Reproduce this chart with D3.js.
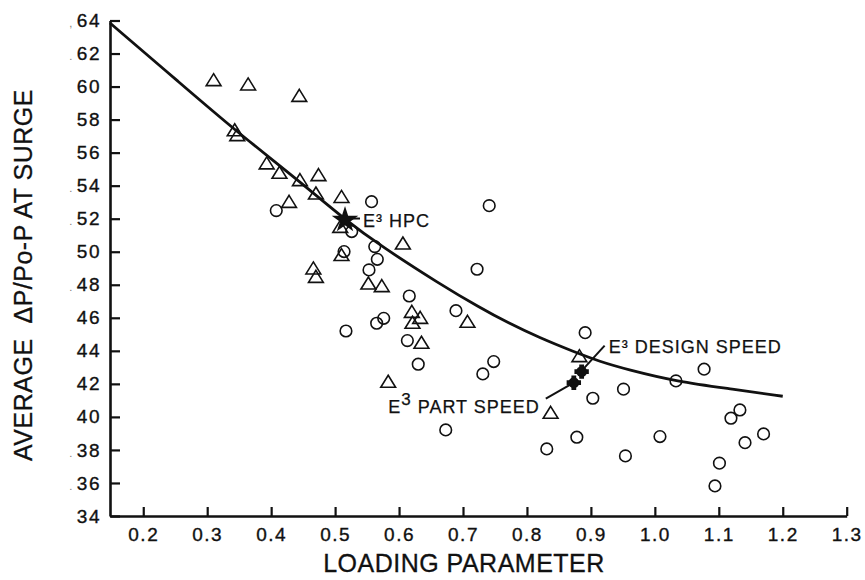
<!DOCTYPE html>
<html>
<head>
<meta charset="utf-8">
<script src="https://cdn.jsdelivr.net/npm/d3@7"></script>
<style>
  body { margin: 0; background: #fff; }
  svg text { font-family: "Liberation Sans", Arial, Helvetica, sans-serif; fill: #111; }
  .tick text { font-size: 19px; letter-spacing: 1.5px; stroke: #111; stroke-width: 0.35px; }
  .axis-title { font-size: 25px; letter-spacing: 0.5px; white-space: pre; stroke: #111; stroke-width: 0.3px; }
  .note { font-size: 18px; letter-spacing: 1px; stroke: #111; stroke-width: 0.25px; }
</style>
</head>
<body>
<div id="surge_chart"></div>
<script>
// open triangles: [loading parameter, average dP/Po-P at surge]
const triangles = [
  [0.310, 60.40], [0.364, 60.14], [0.444, 59.45], [0.343, 57.37], [0.347, 57.07],
  [0.393, 55.36], [0.413, 54.79], [0.445, 54.35], [0.474, 54.65], [0.470, 53.54],
  [0.510, 53.33], [0.428, 53.03], [0.508, 51.52], [0.606, 50.51], [0.510, 49.81],
  [0.466, 49.00], [0.470, 48.49], [0.552, 48.09], [0.573, 47.93], [0.620, 46.37],
  [0.633, 46.01], [0.621, 45.71], [0.707, 45.77], [0.635, 44.50], [0.583, 42.14],
  [0.882, 43.69], [0.837, 40.26]
];

// open circles
const circles = [
  [0.408, 52.49], [0.557, 53.03], [0.741, 52.79], [0.526, 51.22], [0.562, 50.31],
  [0.514, 50.01], [0.566, 49.54], [0.553, 48.90], [0.722, 48.94], [0.616, 47.32],
  [0.689, 46.43], [0.576, 45.97], [0.565, 45.67], [0.517, 45.20], [0.613, 44.62],
  [0.630, 43.19], [0.748, 43.35], [0.731, 42.60], [0.673, 39.21], [0.831, 38.06],
  [0.878, 38.77], [0.891, 45.10], [0.903, 41.13], [0.951, 41.68], [1.033, 42.18],
  [1.077, 42.89], [1.008, 38.81], [0.954, 37.64], [1.133, 40.42], [1.119, 39.92],
  [1.170, 38.97], [1.141, 38.44], [1.101, 37.20], [1.094, 35.82]
];

// faired curve
const curve = [
  [0.148, 63.85], [0.257, 60.23], [0.343, 57.37], [0.442, 54.34], [0.516, 51.92],
  [0.573, 50.31], [0.664, 48.04], [0.727, 46.60], [0.768, 45.74], [0.820, 44.78],
  [0.873, 43.95], [0.914, 43.35], [0.956, 42.88], [1.034, 42.14], [1.123, 41.68],
  [1.200, 41.25]
];

// E3 points
const e3Hpc = [0.5155, 51.92];
const e3Design = [0.8855, 42.74];
const e3Part = [0.8733, 42.07];

const xTicks = [0.2, 0.3, 0.4, 0.5, 0.6, 0.7, 0.8, 0.9, 1.0, 1.1, 1.2, 1.3];
const yTicks = [34, 36, 38, 40, 42, 44, 46, 48, 50, 52, 54, 56, 58, 60, 62, 64];
const yTickLabels = ["34", ".36", ".38", "40", "42", "44", "46", ".48", "50", ".52", ".54", "56", "58", "60", ".62", ",64"];

const margin = {top: 20.5, right: 18.3, bottom: 64, left: 110},
    width = 865 - margin.left - margin.right,
    height = 580 - margin.top - margin.bottom;

const svg = d3.select("#surge_chart")
  .append("svg")
    .attr("width", 865)
    .attr("height", 580)
  .append("g")
    .attr("transform", `translate(${margin.left},${margin.top})`);

const x = d3.scaleLinear().domain([0.148, 1.3]).range([0, width]);
const y = d3.scaleLinear().domain([34, 64]).range([height, 0]);

// axes, ticks point inward
svg.append("g")
  .attr("class", "x-axis")
  .attr("transform", `translate(0,${height})`)
  .call(d3.axisBottom(x)
    .tickValues(xTicks)
    .tickFormat(d3.format(".1f"))
    .tickSizeInner(-9)
    .tickSizeOuter(0)
    .tickPadding(12));

svg.append("g")
  .attr("class", "y-axis")
  .call(d3.axisLeft(y)
    .tickValues(yTicks)
    .tickFormat((d, i) => yTickLabels[i])
    .tickSizeInner(-10)
    .tickSizeOuter(0)
    .tickPadding(9));

// faint stray points in front of some y labels, as in the scan
svg.selectAll(".y-axis .tick text").each(function(d, i) {
  const s = yTickLabels[i];
  if (!/^[.,]/.test(s)) return;
  const t = d3.select(this).text(null);
  t.append("tspan").style("font-size", "11px").style("fill", "#777").style("stroke", "none").text(s[0]);
  t.append("tspan").attr("dx", 3).text(s.slice(1));
});

svg.selectAll(".domain").attr("stroke", "#111").attr("stroke-width", 2.6);
svg.selectAll(".tick line").attr("stroke", "#111").attr("stroke-width", 2.2);

// curve
svg.append("path")
  .datum(curve)
  .attr("fill", "none")
  .attr("stroke", "#111")
  .attr("stroke-width", 2.8)
  .attr("d", d3.line().x(d => x(d[0])).y(d => y(d[1])).curve(d3.curveBasis));

// open markers
svg.append("g")
  .selectAll("path")
  .data(triangles)
  .join("path")
    .attr("transform", d => `translate(${x(d[0])},${y(d[1])})`)
    .attr("d", "M0,-6.3L7.4,5.7L-7.4,5.7Z")
    .attr("fill", "none")
    .attr("stroke", "#111")
    .attr("stroke-width", 1.6);

svg.append("g")
  .selectAll("circle")
  .data(circles)
  .join("circle")
    .attr("cx", d => x(d[0]))
    .attr("cy", d => y(d[1]))
    .attr("r", 5.8)
    .attr("fill", "none")
    .attr("stroke", "#111")
    .attr("stroke-width", 1.6);

// E3 HPC
svg.append("path")
  .attr("transform", `translate(${x(e3Hpc[0])},${y(e3Hpc[1])})`)
  .attr("d", d3.symbol(d3.symbolStar, 150)())
  .attr("fill", "#111")
  .attr("stroke", "#111")
  .attr("stroke-width", 1.5);

svg.append("line")
  .attr("x1", x(e3Hpc[0]) + 5).attr("y1", y(e3Hpc[1]) - 1.5)
  .attr("x2", x(e3Hpc[0]) + 15).attr("y2", y(e3Hpc[1]) - 1.5)
  .attr("stroke", "#111").attr("stroke-width", 2);

svg.append("text")
  .attr("class", "note")
  .attr("x", x(e3Hpc[0]) + 18)
  .attr("y", y(e3Hpc[1]) + 6.5)
  .text("E³ HPC");

// E3 design / part speed
[e3Design, e3Part].forEach(p => {
  svg.append("circle")
    .attr("cx", x(p[0])).attr("cy", y(p[1]))
    .attr("r", 5.4).attr("fill", "#111");
  svg.append("path")
    .attr("transform", `translate(${x(p[0])},${y(p[1])})`)
    .attr("d", d3.symbol(d3.symbolCross, 115)())
    .attr("fill", "#111");
});

svg.append("line")
  .attr("x1", x(e3Design[0]) + 2).attr("y1", y(e3Design[1]) - 3)
  .attr("x2", x(e3Design[0]) + 23).attr("y2", y(e3Design[1]) - 26)
  .attr("stroke", "#111").attr("stroke-width", 2);

svg.append("text")
  .attr("class", "note")
  .attr("x", x(e3Design[0]) + 27)
  .attr("y", y(e3Design[1]) - 19)
  .text("E³ DESIGN SPEED");

svg.append("line")
  .attr("x1", x(e3Part[0]) - 28).attr("y1", y(e3Part[1]) + 16)
  .attr("x2", x(e3Part[0])).attr("y2", y(e3Part[1]))
  .attr("stroke", "#111").attr("stroke-width", 2);

const partLabel = svg.append("text")
  .attr("class", "note")
  .attr("x", x(e3Part[0]) - 34)
  .attr("y", y(e3Part[1]) + 30.5)
  .attr("text-anchor", "end");
partLabel.append("tspan").text("E");
partLabel.append("tspan").attr("dy", -8).style("font-size", "17px").text("3");
partLabel.append("tspan").attr("dy", 8).text(" PART SPEED");

// axis titles
svg.append("text")
  .attr("class", "axis-title")
  .attr("x", 464 - margin.left)
  .attr("y", height + 55.5)
  .attr("text-anchor", "middle")
  .text("LOADING PARAMETER");

svg.append("text")
  .attr("class", "axis-title")
  .attr("transform", `translate(${31.5 - margin.left},${275 - margin.top}) rotate(-90)`)
  .attr("text-anchor", "middle")
  .text("AVERAGE  ΔP/Po-P AT SURGE");
</script>
</body>
</html>
